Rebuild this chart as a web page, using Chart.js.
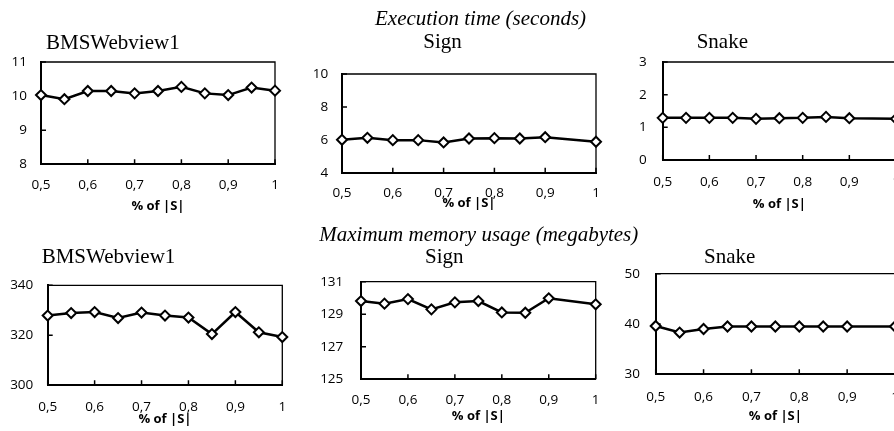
<!DOCTYPE html>
<html><head><meta charset="utf-8">
<script src="https://cdn.jsdelivr.net/npm/chart.js@4.4.1/dist/chart.umd.min.js"></script>
<style>
html,body{margin:0;padding:0;background:#fff;width:894px;height:431px;overflow:hidden;position:relative;}
canvas{position:absolute;}
.t{position:absolute;font-family:"Liberation Serif","Times New Roman",serif;font-size:21px;line-height:24px;white-space:nowrap;color:#000;}
.i{font-style:italic;}
</style></head><body>
<script>
// ---------- data ----------
const xValues = [0.5, 0.55, 0.6, 0.65, 0.7, 0.75, 0.8, 0.85, 0.9, 0.95, 1];
const xTickValues = [0.5, 0.6, 0.7, 0.8, 0.9, 1];
const xTickLabels = ['0,5', '0,6', '0,7', '0,8', '0,9', '1'];
const xAxisTitle = '% of |S|';
const groupTitles = ['Execution time (seconds)', 'Maximum memory usage (megabytes)'];
const panelTitles = ['BMSWebview1', 'Sign', 'Snake'];

const bmsTime   = [10.03, 9.91, 10.15, 10.15, 10.08, 10.15, 10.27, 10.08, 10.03, 10.25, 10.16];
const signTime  = [6.0, 6.12, 5.98, 5.98, 5.84, 6.08, 6.1, 6.08, 6.16, null, 5.88];
const snakeTime = [1.29, 1.29, 1.29, 1.29, 1.26, 1.28, 1.29, 1.32, 1.28, null, 1.26];
const bmsMem    = [327.9, 328.9, 329.3, 326.9, 329.1, 327.9, 327.1, 320.5, 329.3, 321.2, 319.3];
const signMem   = [129.81, 129.65, 129.93, 129.3, 129.73, 129.81, 129.11, 129.09, 129.98, null, 129.61];
const snakeMem  = [39.6, 38.3, 39.0, 39.5, 39.5, 39.5, 39.5, 39.5, 39.5, null, 39.5];

const bmsTimeTicks   = [8, 9, 10, 11];
const signTimeTicks  = [4, 6, 8, 10];
const snakeTimeTicks = [0, 1, 2, 3];
const bmsMemTicks    = [300, 320, 340];
const signMemTicks   = [125, 127, 129, 131];
const snakeMemTicks  = [30, 40, 50];

// ---------- layout ----------
const OX = 40;          // canvases start OX px left of the page
const CW = 920 + OX;
const panels = [
  {vals: bmsTime,   ticks: bmsTimeTicks,   top: 0,   h: 215, L: 41,    R: 275,   T: 62,   B: 164.3, ypad: 14,   lab: 21,   tit: 42.4},
  {vals: signTime,  ticks: signTimeTicks,  top: 0,   h: 215, L: 342,   R: 596,   T: 74,   B: 172.7, ypad: 13.7, lab: 20.6, tit: 30.5},
  {vals: snakeTime, ticks: snakeTimeTicks, top: 0,   h: 215, L: 662.7, R: 896,   T: 62,   B: 160,   ypad: 16,   lab: 21.7, tit: 44},
  {vals: bmsMem,    ticks: bmsMemTicks,    top: 215, h: 216, L: 47.7,  R: 282.3, T: 70.3, B: 170.3, ypad: 14.4, lab: 21.4, tit: 33.7},
  {vals: signMem,   ticks: signMemTicks,   top: 215, h: 216, L: 361,   R: 595.7, T: 66.7, B: 164.3, ypad: 17.7, lab: 20.7, tit: 37.4},
  {vals: snakeMem,  ticks: snakeMemTicks,  top: 215, h: 216, L: 655.7, R: 895,   T: 58.7, B: 159.3, ypad: 15.7, lab: 22.4, tit: 42.4}
];
const textPos = [
  {text: groupTitles[0], cls: 't i', left: 375,   top: 6},
  {text: panelTitles[0], cls: 't',   left: 46,    top: 30},
  {text: panelTitles[1], cls: 't',   left: 423.3, top: 29.4},
  {text: panelTitles[2], cls: 't',   left: 696.7, top: 29.2},
  {text: groupTitles[1], cls: 't i', left: 319.3, top: 221.6},
  {text: panelTitles[0], cls: 't',   left: 41.7,  top: 244.2},
  {text: panelTitles[1], cls: 't',   left: 425,   top: 243.6},
  {text: panelTitles[2], cls: 't',   left: 704,   top: 244.2}
];

Chart.defaults.font.family = '"Open Sans", "Noto Sans", sans-serif';
Chart.defaults.color = '#000';

const TICK_FONT = 13.5, TITLE_FONT = 13, YW = 70;

const framePlugin = {
  id: 'frame',
  beforeDatasetsDraw(chart) {
    const {ctx, chartArea: a, scales: {x, y}} = chart;
    ctx.save();
    ctx.strokeStyle = '#000';
    ctx.lineWidth = 1.3;
    ctx.beginPath();
    ctx.moveTo(a.left, a.top); ctx.lineTo(a.right, a.top); ctx.lineTo(a.right, a.bottom);
    ctx.stroke();
    ctx.lineWidth = 1.5;
    ctx.beginPath();
    x.ticks.forEach(t => { const p = x.getPixelForValue(t.value); ctx.moveTo(p, a.bottom); ctx.lineTo(p, a.bottom - 5); });
    y.ticks.forEach(t => { const p = y.getPixelForValue(t.value); ctx.moveTo(a.left, p); ctx.lineTo(a.left + 5, p); });
    ctx.stroke();
    ctx.restore();
  }
};

panels.forEach(p => {
  const c = document.createElement('canvas');
  c.width = CW; c.height = p.h;
  c.style.top = p.top + 'px';
  c.style.left = (-OX) + 'px';
  document.body.appendChild(c);
  const L = p.L + OX, R = p.R + OX;
  const lh = TITLE_FONT * 1.2;
  const xh = p.tit + lh / 2;
  const data = xValues.map((x, i) => ({x, y: p.vals[i]})).filter(d => d.y !== null);
  new Chart(c, {
    type: 'line',
    data: {datasets: [{
      data,
      borderColor: '#000', borderWidth: 2.5, tension: 0, clip: false,
      pointStyle: 'rectRot', pointRadius: 5, pointBorderWidth: 2,
      pointBackgroundColor: '#fff', pointBorderColor: '#000'
    }]},
    options: {
      responsive: false, animation: false, devicePixelRatio: 1,
      layout: {padding: {left: L - YW, right: CW - R, top: p.T, bottom: Math.max(0, p.h - p.B - xh)}},
      plugins: {legend: {display: false}, tooltip: {enabled: false}},
      events: [],
      scales: {
        x: {
          type: 'linear', min: 0.5, max: 1,
          afterBuildTicks: s => { s.ticks = xTickValues.map(v => ({value: v})); },
          afterFit: s => { s.height = xh; },
          grid: {display: false, drawTicks: false},
          border: {display: true, color: '#000', width: 2},
          ticks: {autoSkip: false, maxRotation: 0, padding: p.lab - TICK_FONT * 0.6,
                  font: {size: TICK_FONT}, callback: (v, i) => xTickLabels[i]},
          title: {display: true, text: xAxisTitle, padding: 0, font: {size: TITLE_FONT, weight: 'bold'}}
        },
        y: {
          type: 'linear', min: p.ticks[0], max: p.ticks[p.ticks.length - 1],
          afterBuildTicks: s => { s.ticks = p.ticks.map(v => ({value: v})); },
          afterFit: s => { s.width = YW; },
          grid: {display: false, drawTicks: false},
          border: {display: true, color: '#000', width: 2},
          ticks: {padding: p.ypad, font: {size: TICK_FONT}, callback: v => String(v)}
        }
      }
    },
    plugins: [framePlugin]
  });
});

textPos.forEach(t => {
  const d = document.createElement('div');
  d.className = t.cls;
  d.style.left = t.left + 'px';
  d.style.top = t.top + 'px';
  d.textContent = t.text;
  document.body.appendChild(d);
});
</script>
</body></html>
